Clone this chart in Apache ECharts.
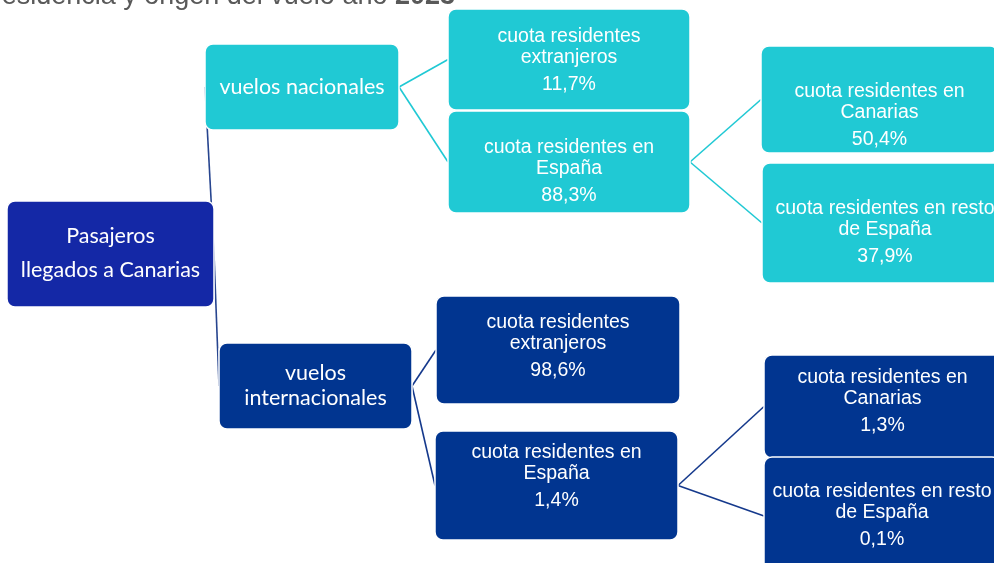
<!DOCTYPE html>
<html>
<head>
<meta charset="utf-8">
<title>Pasajeros llegados a Canarias</title>
<script src="https://cdn.jsdelivr.net/npm/echarts@6/dist/echarts.min.js"></script>
<style>
  html, body { margin: 0; padding: 0; background: #fff; }
  #chart { width: 994px; height: 563px; }
</style>
</head>
<body>
<div id="chart"></div>
<script>
// datos del diagrama
const titleText = 'Pasajeros llegados a Canarias según residencia y origen del vuelo año '
const titleYear = '2023'
const nodeNames = [
  'Pasajeros\nllegados a Canarias',
  'vuelos nacionales',
  'cuota residentes\nextranjeros',
  'cuota residentes en\nEspaña',
  'cuota residentes en\nCanarias',
  'cuota residentes en resto\nde España',
  'vuelos\ninternacionales',
  'cuota residentes\nextranjeros',
  'cuota residentes en\nEspaña',
  'cuota residentes en\nCanarias',
  'cuota residentes en resto\nde España'
]
const nodeShares = [null, null, 11.7, 88.3, 50.4, 37.9, null, 98.6, 1.4, 1.3, 0.1]
const nodeParents = [-1, 0, 1, 1, 3, 3, 0, 6, 6, 8, 8]
const nodeGroup = ['root', 'nac', 'nac', 'nac', 'nac', 'nac', 'int', 'int', 'int', 'int', 'int']

// maquetación: [x0, y0, x1, y1, y de la primera línea]
const layout = [
  [7, 201, 214, 307, 236],
  [205, 44, 399, 130, 87],
  [448, 9, 690, 110, 35],
  [448, 111, 690, 213, 146],
  [761, 46, 998, 153, 90],
  [762, 163, 1008, 283, 207],
  [219, 343, 412, 429, 373],
  [436, 296, 680, 404, 321],
  [435, 431, 678, 540, 451],
  [764, 355, 1001, 458, 376],
  [764, 457, 1000, 575, 490]
]

const colors = { root: '#1428a6', nac: '#20c9d4', int: '#013590' }
const lineColors = { root: '#27458f', nac: '#20c9d4', int: '#15398c' }

const fmt = v => v.toFixed(1).replace('.', ',') + '%'

const mychart = echarts.init(document.getElementById('chart'))

function boxCoords(api, k) {
  const b = layout[k]
  const p0 = api.coord([b[0], b[1]])
  const p1 = api.coord([b[2], b[3]])
  return { x0: p0[0], y0: p0[1], x1: p1[0], y1: p1[1] }
}

// líneas de unión: del centro derecho del padre al centro izquierdo del hijo
function renderEdge(params, api) {
  const child = params.dataIndex + 1
  const parent = nodeParents[child]
  const a = boxCoords(api, parent)
  const b = boxCoords(api, child)
  return {
    type: 'line',
    shape: { x1: a.x1, y1: (a.y0 + a.y1) / 2, x2: b.x0, y2: (b.y0 + b.y1) / 2 },
    style: { stroke: lineColors[nodeGroup[parent]], lineWidth: 1.6 }
  }
}

function renderBox(params, api) {
  const i = params.dataIndex
  const c = boxCoords(api, i)
  const firstY = api.coord([0, layout[i][4]])[1]
  const cx = (c.x0 + c.x1) / 2
  let text, rich, top
  if (nodeShares[i] == null) {
    const lh = i === 0 ? 34 : 25
    text = nodeNames[i].split('\n').map(s => '{t|' + s + '}').join('\n')
    rich = { t: { fontFamily: 'Lato', fontSize: 21.5, lineHeight: lh, fill: '#fff' } }
    top = firstY - lh / 2
  } else {
    text = nodeNames[i].split('\n').map(s => '{n|' + s + '}').join('\n') + '\n{v|' + fmt(nodeShares[i]) + '}'
    rich = {
      n: { fontFamily: 'Liberation Sans', fontSize: 19.5, lineHeight: 21, fill: '#fff' },
      v: { fontFamily: 'Liberation Sans', fontSize: 19.5, lineHeight: 33, fill: '#fff' }
    }
    top = firstY - 9
  }
  return {
    type: 'group',
    children: [
      {
        type: 'rect',
        shape: { x: c.x0, y: c.y0, width: c.x1 - c.x0, height: c.y1 - c.y0, r: 8 },
        style: { fill: colors[nodeGroup[i]], stroke: '#fff', lineWidth: 1.5 }
      },
      {
        type: 'text',
        x: cx,
        y: top,
        style: { text: text, rich: rich, align: 'center', verticalAlign: 'top', fill: '#fff' }
      }
    ]
  }
}

const option = {
  animation: false,
  backgroundColor: '#fff',
  grid: { left: 0, right: 0, top: 0, bottom: 0 },
  xAxis: { type: 'value', min: 0, max: 994, show: false },
  yAxis: { type: 'value', min: 0, max: 563, inverse: true, show: false },
  graphic: [
    {
      type: 'text',
      x: 455,
      y: -3,
      style: {
        text: '{a|' + titleText + '}{b|' + titleYear + '}',
        align: 'right',
        verticalAlign: 'middle',
        rich: {
          a: { fontFamily: 'Liberation Sans', fontSize: 27, fill: '#595959' },
          b: { fontFamily: 'Liberation Sans', fontSize: 27, fontWeight: 'bold', fill: '#595959' }
        }
      }
    }
  ],
  series: [
    {
      type: 'custom',
      name: 'uniones',
      z: 1,
      renderItem: renderEdge,
      data: nodeParents.slice(1).map((p, k) => [k + 1, p])
    },
    {
      type: 'custom',
      name: 'cajas',
      z: 2,
      renderItem: renderBox,
      data: nodeNames.map((n, i) => [i, nodeShares[i] == null ? 0 : nodeShares[i]])
    }
  ]
}
mychart.setOption(option)
</script>
</body>
</html>
